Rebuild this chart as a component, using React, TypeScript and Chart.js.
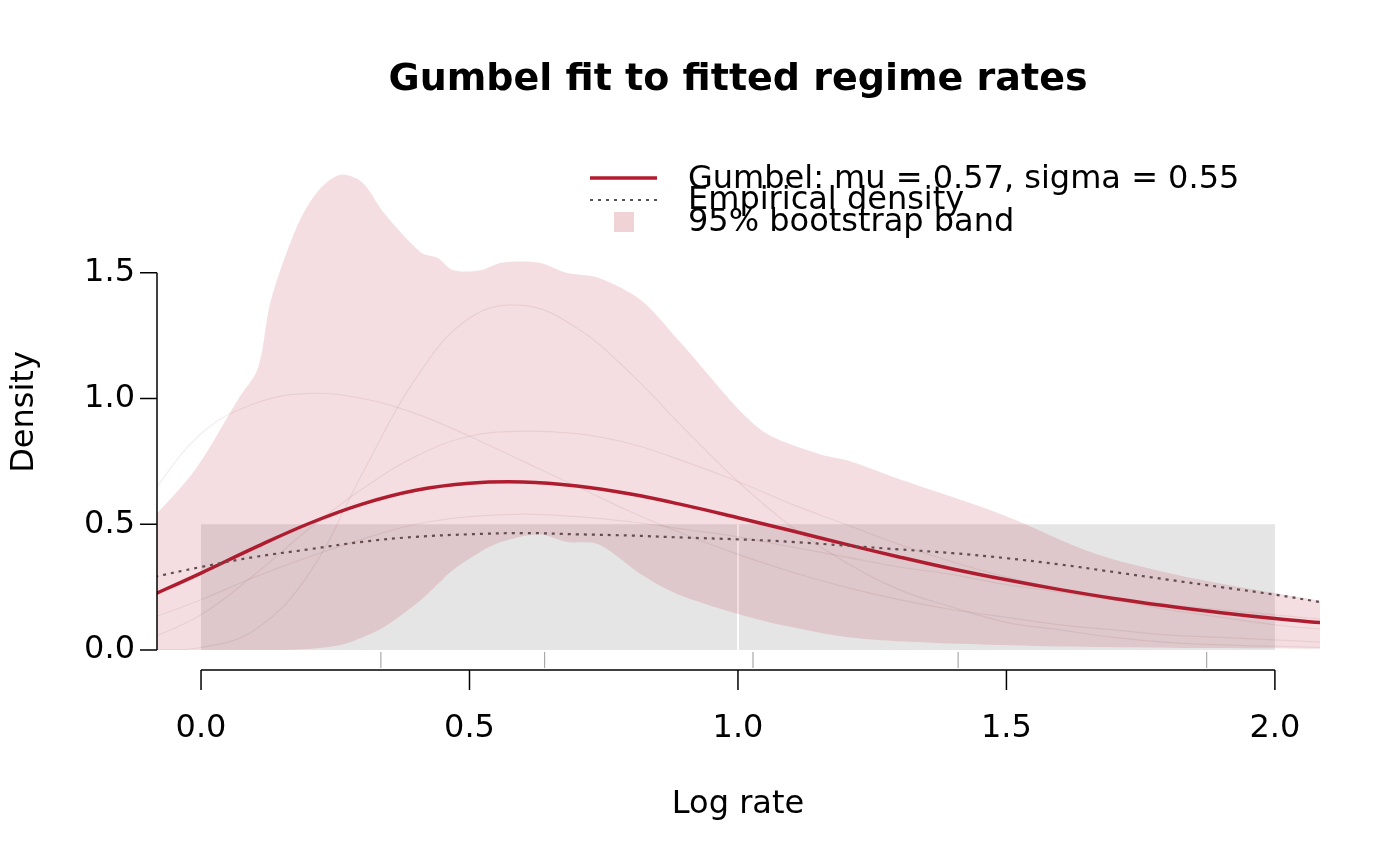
import {useEffect, useRef} from 'react';
import {Chart, registerables} from 'chart.js';

Chart.register(...registerables);

// x grid for the fitted curves (Log rate)
const gridX = [-0.1, 0, 0.1, 0.2, 0.3, 0.4, 0.5, 0.6, 0.7, 0.8, 0.9, 1.0, 1.1, 1.2, 1.3, 1.4, 1.5, 1.6, 1.7, 1.8, 1.9, 2.0, 2.1];
const gumbel = [0.209, 0.306, 0.407, 0.502, 0.58, 0.635, 0.663, 0.668, 0.652, 0.62, 0.576, 0.526, 0.474, 0.421, 0.37, 0.322, 0.279, 0.24, 0.205, 0.175, 0.148, 0.125, 0.106];
const empirical = [0.285, 0.33, 0.37, 0.4, 0.43, 0.45, 0.46, 0.465, 0.46, 0.455, 0.447, 0.44, 0.43, 0.415, 0.4, 0.385, 0.365, 0.34, 0.31, 0.28, 0.25, 0.22, 0.185];

// faint bootstrap draws
const bootA = [0, 0.01, 0.08, 0.3, 0.7, 1.08, 1.32, 1.37, 1.28, 1.1, 0.88, 0.67, 0.49, 0.35, 0.24, 0.17, 0.11, 0.08, 0.05, 0.03, 0.02, 0.015, 0.01];
const bootB = [0.6, 0.86, 0.98, 1.02, 1.0, 0.94, 0.85, 0.75, 0.65, 0.55, 0.46, 0.38, 0.31, 0.25, 0.2, 0.16, 0.13, 0.1, 0.08, 0.06, 0.05, 0.04, 0.03];
const bootC = [0.04, 0.14, 0.3, 0.48, 0.64, 0.77, 0.85, 0.87, 0.86, 0.82, 0.75, 0.67, 0.58, 0.5, 0.42, 0.35, 0.29, 0.24, 0.2, 0.16, 0.13, 0.1, 0.08];
const bootD = [0.12, 0.2, 0.29, 0.37, 0.44, 0.5, 0.53, 0.54, 0.53, 0.51, 0.48, 0.45, 0.41, 0.37, 0.33, 0.3, 0.26, 0.23, 0.2, 0.18, 0.16, 0.14, 0.12];

// 95% bootstrap band
const bandX = [-0.1, -0.01, 0.07, 0.106, 0.13, 0.18, 0.22, 0.26, 0.3, 0.34, 0.41, 0.44, 0.47, 0.52, 0.56, 0.63, 0.68, 0.74, 0.82, 0.89, 1.04, 1.15, 1.21, 1.3, 1.49, 1.67, 1.86, 2.1];
const bandHi = [0.5, 0.72, 1.0, 1.12, 1.39, 1.69, 1.83, 1.89, 1.86, 1.74, 1.58, 1.56, 1.51, 1.51, 1.54, 1.54, 1.5, 1.48, 1.39, 1.23, 0.88, 0.78, 0.75, 0.68, 0.54, 0.38, 0.28, 0.19];
const bandLo = [0, 0, 0, 0, 0, 0.002, 0.008, 0.02, 0.05, 0.09, 0.2, 0.26, 0.32, 0.39, 0.43, 0.46, 0.43, 0.42, 0.3, 0.22, 0.12, 0.07, 0.05, 0.035, 0.02, 0.012, 0.008, 0.005];

const rugX = [0.335, 0.64, 1.028, 1.41, 1.873];
const xTicks = [0, 0.5, 1.0, 1.5, 2.0];
const yTicks = [0, 0.5, 1.0, 1.5];

const RED = '#b01c2e';
const BAND = 'rgba(178,34,52,0.15)';
const FONT = '"DejaVu Sans", sans-serif';

const pts = (xs: number[], ys: number[]) => xs.map((x, i) => ({x, y: ys[i]}));

const decor = {
    id: 'decor',
    beforeDatasetsDraw(chart: any) {
        const {ctx, scales: {x, y}} = chart;
        ctx.save();
        ctx.fillStyle = '#e5e5e5';
        ctx.fillRect(x.getPixelForValue(0), y.getPixelForValue(0.5), x.getPixelForValue(2) - x.getPixelForValue(0), y.getPixelForValue(0) - y.getPixelForValue(0.5));
        ctx.strokeStyle = '#ffffff';
        ctx.lineWidth = 2;
        ctx.beginPath();
        ctx.moveTo(x.getPixelForValue(1), y.getPixelForValue(0));
        ctx.lineTo(x.getPixelForValue(1), y.getPixelForValue(0.5));
        ctx.stroke();
        ctx.restore();
    },
    afterDraw(chart: any) {
        const {ctx, scales: {x, y}} = chart;
        const y0 = y.getPixelForValue(0);
        const xl = chart.chartArea.left;
        ctx.save();
        ctx.strokeStyle = '#999';
        ctx.lineWidth = 1;
        rugX.forEach(v => {
            const px = x.getPixelForValue(v);
            ctx.beginPath(); ctx.moveTo(px, y0 + 2); ctx.lineTo(px, y0 + 18); ctx.stroke();
        });
        ctx.strokeStyle = '#000';
        ctx.lineWidth = 1.5;
        ctx.fillStyle = '#000';
        ctx.font = `32px ${FONT}`;
        // x axis
        const ya = y0 + 20;
        ctx.beginPath(); ctx.moveTo(x.getPixelForValue(0), ya); ctx.lineTo(x.getPixelForValue(2), ya); ctx.stroke();
        ctx.textAlign = 'center'; ctx.textBaseline = 'middle';
        xTicks.forEach(v => {
            const px = x.getPixelForValue(v);
            ctx.beginPath(); ctx.moveTo(px, ya); ctx.lineTo(px, ya + 20); ctx.stroke();
            ctx.fillText(v.toFixed(1), px, 729);
        });
        // y axis
        ctx.beginPath(); ctx.moveTo(xl, y.getPixelForValue(0)); ctx.lineTo(xl, y.getPixelForValue(1.5)); ctx.stroke();
        ctx.textAlign = 'right';
        yTicks.forEach(v => {
            const py = y.getPixelForValue(v);
            ctx.beginPath(); ctx.moveTo(xl, py); ctx.lineTo(xl - 17, py); ctx.stroke();
            ctx.fillText(v.toFixed(1), 135, py);
        });
        ctx.textAlign = 'center';
        ctx.fillText('Log rate', 738, 805);
        ctx.save();
        ctx.translate(25, 412); ctx.rotate(-Math.PI / 2);
        ctx.fillText('Density', 0, 0);
        ctx.restore();
        ctx.font = `bold 38px ${FONT}`;
        ctx.fillText('Gumbel fit to fitted regime rates', 738, 80);
        // legend
        ctx.font = `32px ${FONT}`;
        ctx.textAlign = 'left';
        ctx.strokeStyle = RED; ctx.lineWidth = 3.5;
        ctx.beginPath(); ctx.moveTo(590, 178); ctx.lineTo(657, 178); ctx.stroke();
        ctx.strokeStyle = '#555'; ctx.lineWidth = 2.2; ctx.setLineDash([3, 5]);
        ctx.beginPath(); ctx.moveTo(590, 200); ctx.lineTo(657, 200); ctx.stroke();
        ctx.setLineDash([]);
        ctx.fillStyle = 'rgba(178,34,52,0.2)';
        ctx.fillRect(614, 212, 20, 20);
        ctx.fillStyle = '#000';
        ctx.fillText('Gumbel: mu = 0.57, sigma = 0.55', 688, 180);
        ctx.fillText('Empirical density', 688, 201);
        ctx.fillText('95% bootstrap band', 688, 223);
        ctx.restore();
    },
};

const App: React.FC = () => {
    const canvasRef = useRef<HTMLCanvasElement | null>(null);
    const chartRef = useRef<Chart | null>(null);

    useEffect(() => {
        document.body.style.margin = '0';
        const ctx = canvasRef.current?.getContext('2d');
        if (!ctx) return;
        const thin = (ys: number[]) => ({
            data: pts(gridX, ys), borderColor: 'rgba(150,90,95,0.11)', borderWidth: 1.2,
            pointRadius: 0, tension: 0.4, fill: false,
        });
        chartRef.current = new Chart(ctx, {
            type: 'line',
            data: {
                datasets: [
                    {data: pts(bandX, bandLo), borderWidth: 0, pointRadius: 0, tension: 0.3, fill: false},
                    {data: pts(bandX, bandHi), borderWidth: 0, pointRadius: 0, tension: 0.3, fill: '-1', backgroundColor: BAND},
                    thin(bootA), thin(bootB), thin(bootC), thin(bootD),
                    {data: pts(gridX, empirical), borderColor: '#555', borderWidth: 2.2, borderDash: [3, 5], pointRadius: 0, tension: 0.4, fill: false},
                    {data: pts(gridX, gumbel), borderColor: RED, borderWidth: 3.5, pointRadius: 0, tension: 0.4, fill: false},
                ] as any,
            },
            options: {
                animation: false,
                responsive: false,
                layout: {padding: {left: 157, right: 80, top: 147, bottom: 216}},
                scales: {
                    x: {type: 'linear', min: -0.082, max: 2.084, display: false},
                    y: {min: 0, max: 2.0, display: false},
                },
                plugins: {legend: {display: false}, tooltip: {enabled: false}},
            },
            plugins: [decor],
        });
        return () => chartRef.current?.destroy();
    }, []);

    return <canvas ref={canvasRef} width={1400} height={866} style={{display: 'block'}} />;
};

export default App;
